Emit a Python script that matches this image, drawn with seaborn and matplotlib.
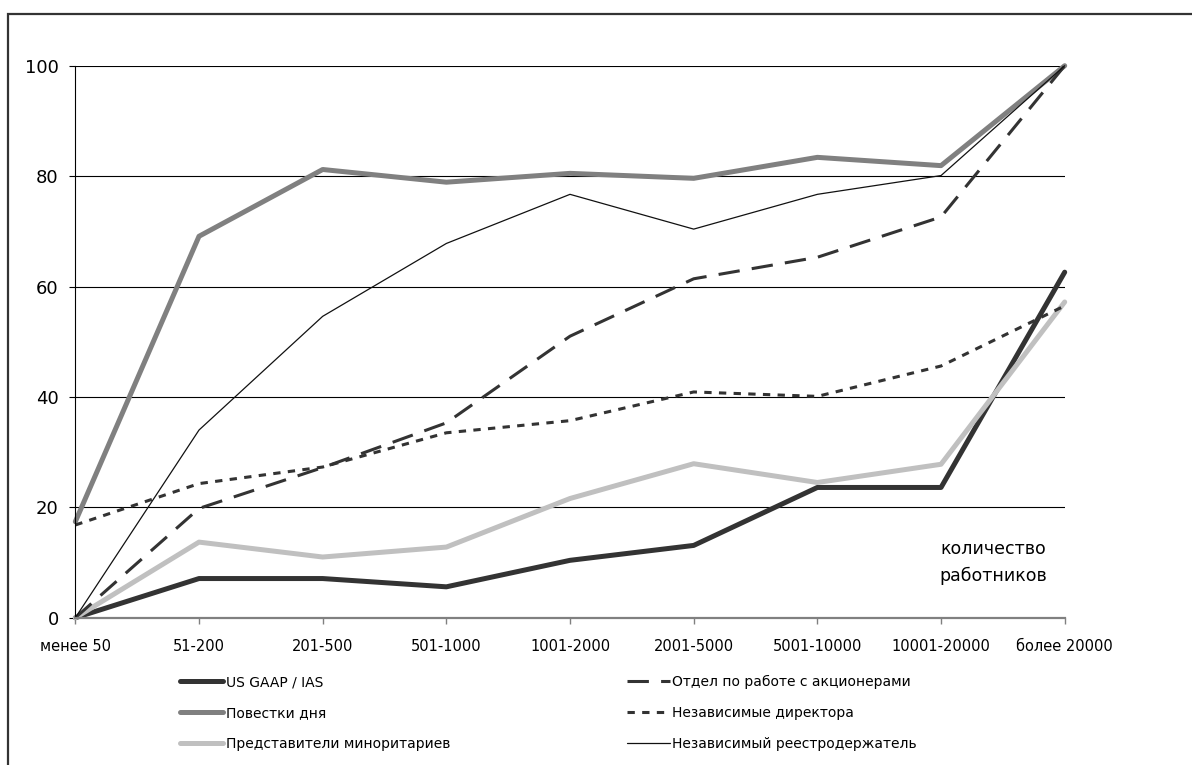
import matplotlib
matplotlib.use("Agg")
import matplotlib.pyplot as plt
import seaborn as sns
from matplotlib.patches import Rectangle

# === Data ===
categories = ["менее 50", "51-200", "201-500", "501-1000", "1001-2000",
              "2001-5000", "5001-10000", "10001-20000", "более 20000"]

us_gaap = [0, 7.1, 7.1, 5.6, 10.4, 13.1, 23.6, 23.6, 62.6]
agenda = [17.4, 69.1, 81.2, 78.9, 80.5, 79.6, 83.4, 81.9, 100]
minority = [0, 13.7, 11.0, 12.8, 21.6, 27.9, 24.5, 27.8, 57.2]
ir_dept = [0, 19.8, 27.2, 35.3, 51.0, 61.4, 65.3, 72.6, 100]
indep_directors = [16.8, 24.3, 27.3, 33.5, 35.7, 40.9, 40.1, 45.6, 56.5]
indep_registrar = [0, 34.0, 54.6, 67.8, 76.7, 70.4, 76.7, 80.1, 100]

labels = ["US GAAP / IAS", "Повестки дня", "Представители миноритариев",
          "Отдел по работе с акционерами", "Независимые директора",
          "Независимый реестродержатель"]

sns.set_theme(style="white")
plt.rcParams["font.family"] = ["DejaVu Sans"]

fig = plt.figure(figsize=(11.92, 7.65), dpi=100)
ax = fig.add_axes([0.0632, 0.1925, 0.830, 0.7216])

# (values, color, linewidth, dashes)
series = [
    (us_gaap, "#333333", 3.6, None),
    (agenda, "#808080", 3.6, None),
    (minority, "#c0c0c0", 3.6, None),
    (ir_dept, "#333333", 2.2, [7, 4]),
    (indep_directors, "#333333", 2.2, [2.4, 2.4]),
    (indep_registrar, "#111111", 0.9, None),
]

handles = []
for (vals, color, lw, dashes), lab in zip(series, labels):
    sns.lineplot(x=categories, y=vals, ax=ax, color=color, linewidth=lw,
                 label=lab, sort=False, clip_on=False, legend=False)
    line = ax.lines[-1]
    if dashes is not None:
        line.set_dashes(dashes)
    handles.append(line)

# === Axes styling ===
ax.set_xlim(0, 8)
ax.set_ylim(0, 100)
ax.set_xticks(range(len(categories)))
ax.set_xticklabels(categories)
ax.set_yticks([0, 20, 40, 60, 80, 100])
ax.yaxis.grid(True, color="black", linewidth=0.8)
ax.xaxis.grid(False)
ax.set_axisbelow(True)
ax.set_xlabel("")
ax.set_ylabel("")

for side in ["top", "right"]:
    ax.spines[side].set_visible(False)
ax.spines["left"].set_color("black")
ax.spines["left"].set_linewidth(0.8)
ax.spines["bottom"].set_color("#808080")
ax.spines["bottom"].set_linewidth(1.6)

ax.tick_params(axis="y", left=True, length=4, width=0.8, color="black",
               pad=8, labelsize=13, labelcolor="black")
ax.tick_params(axis="x", bottom=True, length=4, width=1.0, color="#808080",
               pad=11, labelsize=10.5, labelcolor="black")

ax.text(7.42, 10.0, "количество\nработников", ha="center", va="center",
        multialignment="center", fontsize=12.5, color="black", linespacing=1.65)

# === Legend ===
fig.legend(handles=handles, labels=labels, ncol=2, frameon=False,
           loc="upper left", bbox_to_anchor=(180 / 1192, 1 - 675 / 765),
           fontsize=10, labelcolor="black", handlelength=3.1,
           handletextpad=0.2, columnspacing=12.7, labelspacing=1.23,
           borderpad=0, borderaxespad=0)

# === Outer frame ===
frame = Rectangle((8 / 1192, -0.05), 1.1, 1 - 14 / 765 + 0.05,
                  transform=fig.transFigure, fill=False,
                  edgecolor="#333333", linewidth=1.6)
fig.add_artist(frame)

fig.savefig("out.png", dpi=100)
